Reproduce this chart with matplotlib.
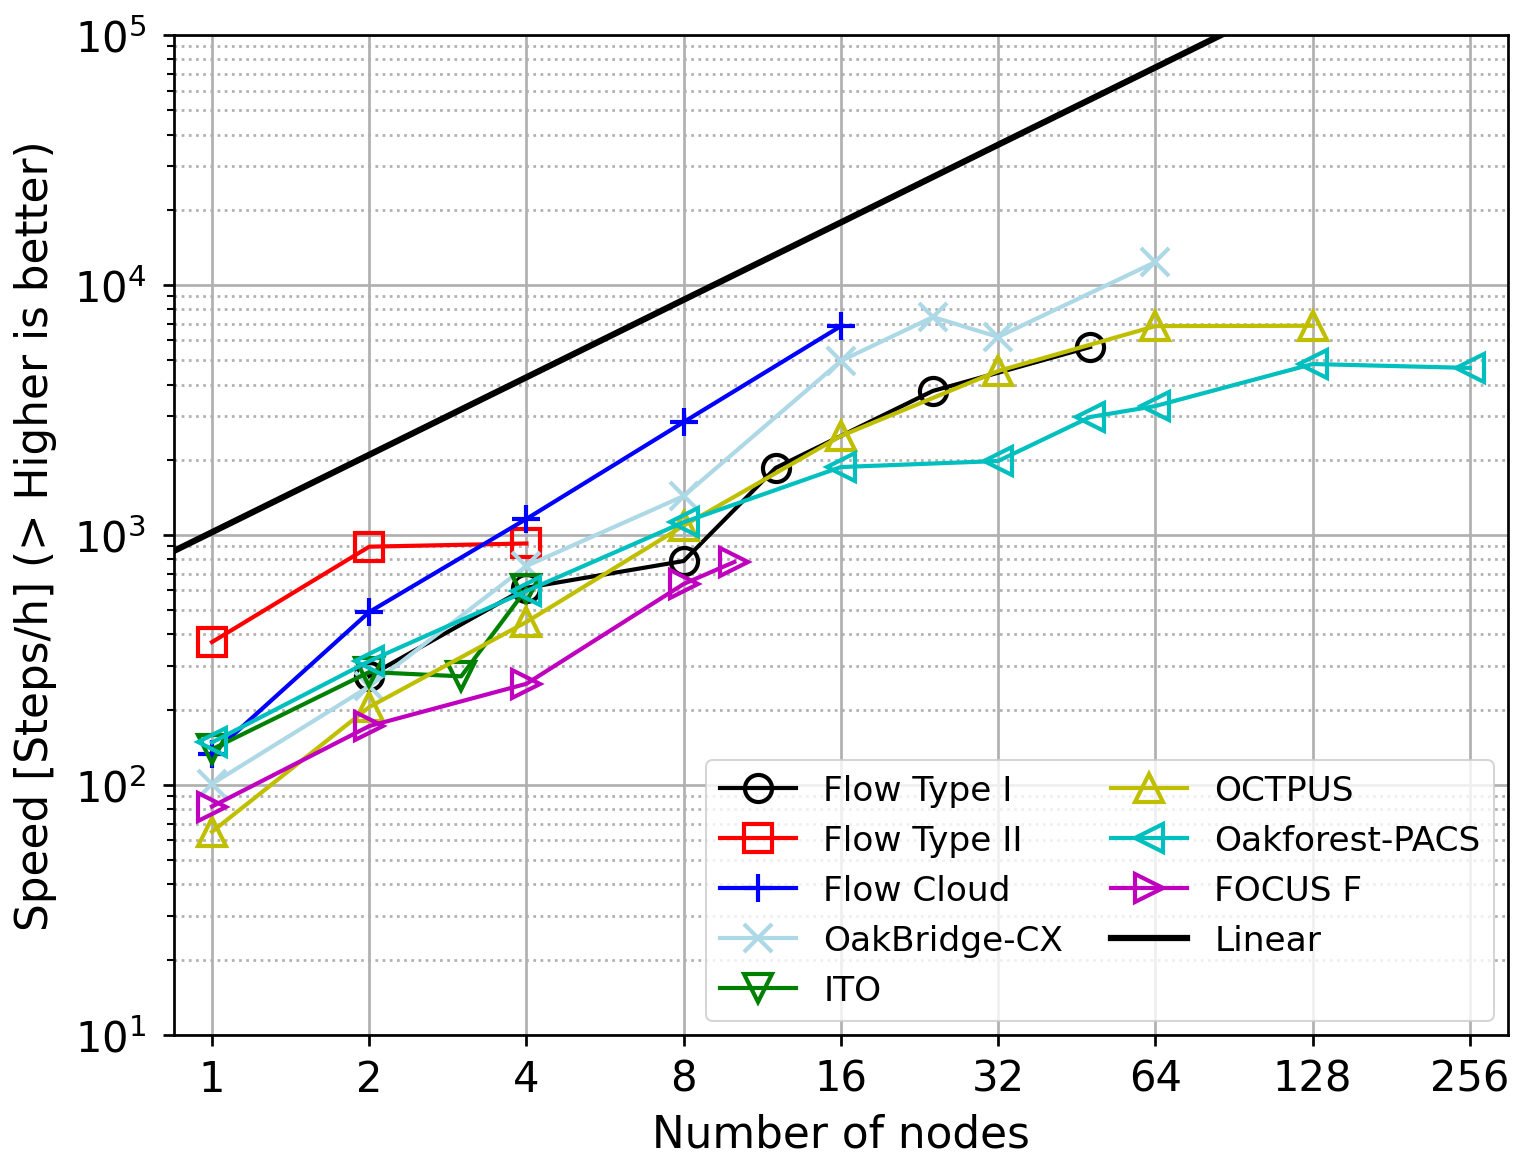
"""Strong scaling: speed vs number of nodes for several systems, log-log."""

import matplotlib
matplotlib.use('Agg')
import matplotlib.pyplot as plt
from matplotlib.ticker import LogLocator, NullFormatter, FixedLocator, FixedFormatter

# --- data ---
flow1_nodes = [2, 4, 8, 12, 24, 48]
flow1_speed = [273, 615, 787, 1855, 3770, 5650]

flow2_nodes = [1, 2, 4]
flow2_speed = [373, 898, 925]

cloud_nodes = [1, 2, 4, 8, 16]
cloud_speed = [133, 492, 1160, 2830, 6850]

oakbridge_nodes = [1, 2, 4, 8, 16, 24, 32, 64]
oakbridge_speed = [101, 248, 752, 1432, 4970, 7450, 6200, 12360]

ito_nodes = [1, 2, 3, 4]
ito_speed = [139, 283, 272, 608]

octpus_nodes = [1, 2, 4, 8, 16, 32, 64, 128]
octpus_speed = [65, 205, 449, 1090, 2490, 4530, 6850, 6870]

oakforest_nodes = [1, 2, 4, 8, 16, 32, 48, 64, 128, 256]
oakforest_speed = [148, 313, 597, 1125, 1870, 1977, 2965, 3280, 4830, 4660]

focus_nodes = [1, 2, 4, 8, 10]
focus_speed = [82, 172, 254, 637, 780]

# reference "Linear" line as drawn (read at each power of two)
linear_nodes = [0.5, 1, 2, 4, 8, 16, 32, 64, 128, 256]
linear_speed = [503, 1026, 2094, 4275, 8730, 17800, 36400, 74200, 151600, 309500]

x_ticks = [1, 2, 4, 8, 16, 32, 64, 128, 256]
x_tick_labels = ['1', '2', '4', '8', '16', '32', '64', '128', '256']

series = [
    (flow1_nodes, flow1_speed, 'Flow Type I', 'k', 'o'),
    (flow2_nodes, flow2_speed, 'Flow Type II', 'r', 's'),
    (cloud_nodes, cloud_speed, 'Flow Cloud', 'b', '+'),
    (oakbridge_nodes, oakbridge_speed, 'OakBridge-CX', 'lightblue', 'x'),
    (ito_nodes, ito_speed, 'ITO', 'g', 'v'),
    (octpus_nodes, octpus_speed, 'OCTPUS', 'y', '^'),
    (oakforest_nodes, oakforest_speed, 'Oakforest-PACS', 'c', '<'),
    (focus_nodes, focus_speed, 'FOCUS F', 'm', '>'),
]

fig = plt.figure(figsize=(10.1, 7.693), dpi=150)
ax = fig.add_axes([0.1149, 0.1023, 0.8805, 0.8665])

for nodes, speed, label, color, marker in series:
    ax.plot(nodes, speed, color=color, marker=marker, label=label, linewidth=2,
            markersize=13, markeredgewidth=2, markerfacecolor='none')
ax.plot(linear_nodes, linear_speed, color='k', linewidth=3, label='Linear')

ax.set_xscale('log', base=2)
ax.set_yscale('log')
ax.set_xlim(0.846, 303)
ax.set_ylim(10, 1e5)

ax.xaxis.set_major_locator(FixedLocator(x_ticks))
ax.xaxis.set_major_formatter(FixedFormatter(x_tick_labels))
ax.xaxis.set_minor_locator(FixedLocator([]))
ax.yaxis.set_major_locator(LogLocator(base=10, numticks=10))
ax.yaxis.set_minor_locator(LogLocator(base=10, subs=range(2, 10), numticks=20))
ax.yaxis.set_minor_formatter(NullFormatter())

ax.tick_params(axis='both', which='major', labelsize=20, length=5.5, width=1.3, pad=5.5)
ax.tick_params(axis='y', which='major', pad=8)
ax.tick_params(axis='y', which='minor', length=3.2, width=1.0)
for sp in ax.spines.values():
    sp.set_linewidth(1.3)

ax.grid(which='major', color='#b0b0b0', linewidth=1.3)
ax.grid(which='minor', axis='y', color='#b0b0b0', linestyle=':', linewidth=1.3)

ax.set_xlabel('Number of nodes', fontsize=21, labelpad=6)
ax.set_ylabel('Speed [Steps/h] (> Higher is better)', fontsize=21, labelpad=8)

ax.legend(loc='lower right', ncol=2, fontsize=16.5, handlelength=2.2,
          columnspacing=1.4, borderaxespad=0.4, framealpha=0.8)

plt.savefig('out.png', dpi=150)
